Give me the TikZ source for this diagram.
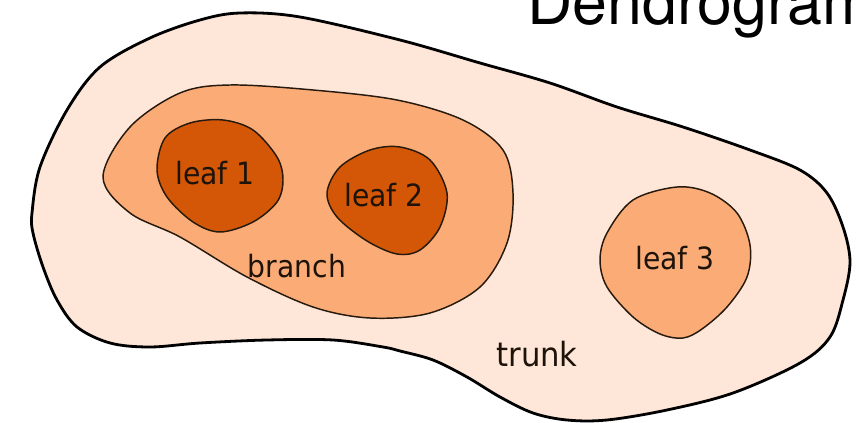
\documentclass[tikz,border=0pt]{standalone}
\usepackage{fontspec}
\setmainfont{DejaVu Sans}[FakeStretch=0.92]
\newfontfamily\titlefont{TeX Gyre Heros}
\begin{document}
\begin{tikzpicture}[x=0.75pt,y=-0.75pt,
  region/.style={draw=black!80!brown, line width=1.1pt, line join=round},
  lbl/.style={anchor=base, inner sep=0pt, text=black!85!brown, font=\fontsize{23}{26}\selectfont}]
\definecolor{trunkfill}{HTML}{FEE6D8}
\definecolor{branchfill}{HTML}{FBAC76}
\definecolor{leaffill}{HTML}{D45708}
\useasboundingbox (0,0) rectangle (859,423);
\clip (0,0) rectangle (859,423);

% trunk
\draw[fill=trunkfill, draw=black, line width=2.1pt] plot[smooth cycle, tension=0.55] coordinates {
  (32,213) (40,167) (67,110) (100,67) (150,38) (200,20) (240,13) (300,17)
  (400,40) (480,63) (550,83) (617,107) (683,127) (750,150) (800,170)
  (827,193) (843,227) (850,262) (843,300) (830,337) (800,363) (733,393)
  (667,410) (607,420) (567,420) (533,413) (500,397) (467,377) (433,360)
  (400,351) (383,347) (333,340) (267,340) (200,343) (150,347) (110,343)
  (77,327) (57,300) (43,267) (33,233)};

% branch
\draw[region, fill=branchfill] plot[smooth cycle, tension=0.55] coordinates {
  (103,177) (130,127) (180,93) (230,85) (313,90) (397,100) (463,120)
  (503,150) (513,193) (507,243) (480,287) (430,313) (370,318) (313,307)
  (247,277) (180,237) (130,213)};

% leaf 1
\draw[region, fill=leaffill] plot[smooth cycle, tension=0.55] coordinates {
  (157,170) (165,138) (190,123) (223,120) (253,130) (277,157) (283,180)
  (277,202) (253,222) (220,232) (193,222) (167,197)};

% leaf 2
\draw[region, fill=leaffill] plot[smooth cycle, tension=0.55] coordinates {
  (327,193) (340,167) (370,150) (400,147) (430,160) (447,193) (440,227)
  (420,250) (397,254) (367,241) (337,217)};

% leaf 3
\draw[region, fill=branchfill] plot[smooth cycle, tension=0.55] coordinates {
  (677,187) (633,200) (607,233) (600,260) (607,287) (633,317) (660,334)
  (683,338) (702,329) (727,307) (747,277) (750,245) (737,213) (710,193)};

% labels
\node[lbl] (l1) at (215,185) {leaf 1};
\node[lbl] (l2) at (384,207) {leaf 2};
\node[lbl] (br) at (297,278) {branch};
\node[lbl] (l3) at (675,270) {leaf 3};
\node[lbl, font=\fontsize{25}{28}\selectfont] (tr) at (537,367) {trunk};

% title
\node[anchor=base west, inner sep=0pt, font=\titlefont\fontsize{47}{50}\selectfont] (title) at (527,25) {Dendrogram};
\end{tikzpicture}
\end{document}
